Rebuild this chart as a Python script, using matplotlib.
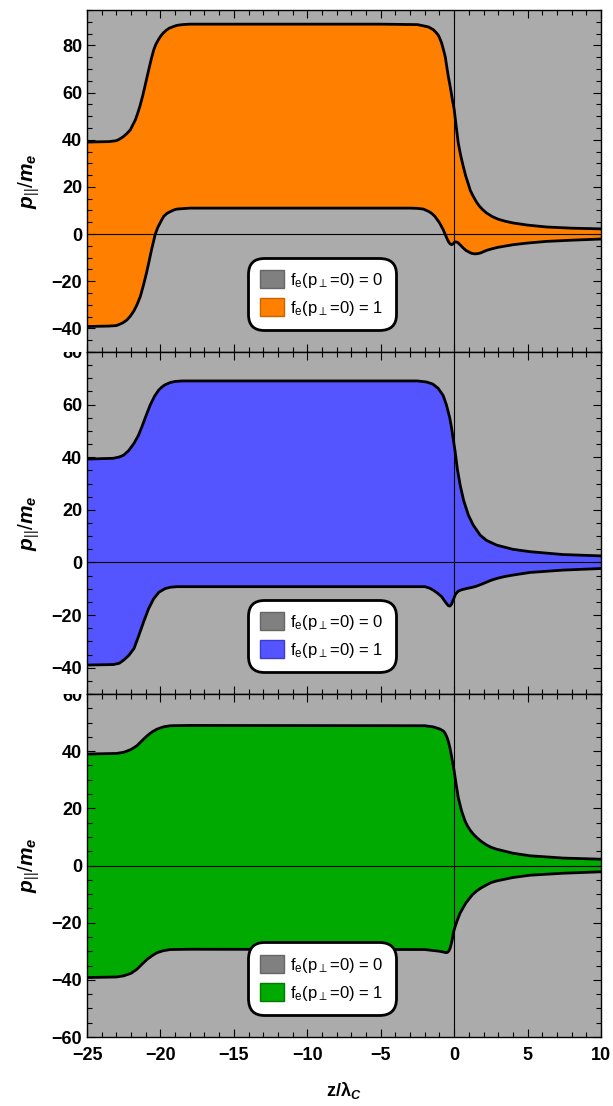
import numpy as np
import matplotlib
matplotlib.use("Agg")
import matplotlib.pyplot as plt
from matplotlib.patches import Patch
from matplotlib.ticker import MultipleLocator
from matplotlib.transforms import Bbox, TransformedBbox

plt.rcParams['font.family'] = ['Liberation Sans', 'DejaVu Sans']
plt.rcParams['mathtext.fontset'] = 'custom'
plt.rcParams['mathtext.rm'] = 'Liberation Sans'
plt.rcParams['mathtext.it'] = 'Liberation Sans:italic:bold'
plt.rcParams['mathtext.bf'] = 'Liberation Sans:bold'

# ---- data (z/lambda_C, p_par/m_e) ----
top_up_x = [-25, -23.5, -23.0, -22.8, -22.55, -22.3, -22.05, -21.7, -21.55, -21.4, -21.2, -21.05,
            -20.9, -20.75, -20.6, -20.45, -20.3, -20.1, -19.95, -19.8, -19.6, -19.4, -19.1,
            -18.87, -18.5, -18, -5, -2.5, -2.1, -1.75, -1.43, -1.25, -1.1, -1.0, -0.85, -0.7,
            -0.6, -0.5, -0.4, -0.3, -0.2, -0.1, 0.0, 0.14, 0.28, 0.45, 0.62, 0.78, 0.95, 1.1,
            1.3, 1.5, 1.7, 1.95, 2.21, 2.6, 3.0, 3.5, 4.02, 5, 6.29, 8, 10]
top_up_y = [39.0, 39.2, 39.6, 40.2, 41.2, 42.5, 44.2, 48.5, 51.2, 54.1, 58.8, 62.8,
            66.9, 70.9, 74.8, 78.2, 80.6, 82.8, 84.2, 85.3, 86.4, 87.3, 88.0,
            88.5, 88.8, 89.0, 89.0, 88.8, 88.3, 87.8, 86.7, 85.6, 84.5, 83.3, 81, 77.5,
            75, 70.9, 66.9, 63.6, 60, 56.3, 53, 45.7, 38.6, 33.2, 28.7, 24.8, 21.5, 18.5,
            16, 13.8, 12, 10.3, 8.9, 7.4, 6.3, 5.4, 4.7, 3.8, 3.0, 2.5, 2.2]
top_lo_x = [-25, -23.5, -23.0, -22.8, -22.55, -22.28, -22.05, -21.8, -21.6, -21.37, -21.15,
            -20.95, -20.8, -20.6, -20.35, -20.18, -20.0, -19.78, -19.55, -19.3, -19.1, -18.87,
            -18, -3, -2.5, -2.1, -1.7, -1.5, -1.31, -1.0, -0.74, -0.55, -0.4, -0.28, -0.17,
            -0.08, 0.0, 0.08, 0.17, 0.25, 0.35, 0.62, 0.8, 1.0, 1.2, 1.42, 1.6, 1.8, 2.21,
            2.6, 3.0, 4.02, 5, 6.29, 8, 10]
top_lo_y = [-39.2, -39.0, -38.8, -38.3, -37.6, -36.4, -34.8, -32.5, -30.0, -26.5, -21.5,
            -16.5, -12.3, -6.5, 0, 2.8, 5.0, 7.5, 8.8, 9.6, 10.2, 10.6,
            11.0, 11.0, 10.9, 10.6, 9.5, 8.6, 7.5, 4.8, 1.8, -1.0, -3.1, -4.1, -4.5,
            -4.2, -3.6, -3.3, -3.4, -3.6, -4.2, -5.9, -6.9, -7.6, -8.2, -8.4, -8.3, -8.0, -6.9,
            -6.2, -5.6, -4.5, -3.8, -3.1, -2.6, -2.1]

mid_up_x = [-25, -23.2, -22.8, -22.5, -22.15, -21.8, -21.5, -21.26, -21.0, -20.7, -20.4,
            -20.12, -19.9, -19.7, -19.33, -19.0, -18.5, -2.5, -1.88, -1.45, -1.09, -0.75,
            -0.52, -0.3, -0.17, -0.05, 0.07, 0.22, 0.41, 0.65, 0.97, 1.3, 1.77, 2.2, 2.89,
            4.0, 5.16, 7.42, 10]
mid_up_y = [39.3, 39.6, 40.1, 40.8, 42.6, 45.3, 48.3, 51.6, 55.5, 59.8, 63.2,
            65.5, 66.7, 67.5, 68.4, 68.8, 69, 69, 68.6, 67.8, 66.2, 63.5,
            59.8, 55, 51, 46.5, 42.1, 35.5, 29.4, 23.5, 18, 14.2, 10.4, 8.4, 6.6,
            5.0, 4.1, 3.0, 2.5]
mid_lo_x = [-25, -23.2, -22.8, -22.5, -22.15, -21.8, -21.5, -21.14, -20.8, -20.45, -20.1,
            -19.67, -19.3, -18.87, -2, -1.7, -1.43, -1.15, -0.85, -0.68, -0.52, -0.4, -0.29,
            -0.18, -0.07, 0.1, 0.28, 0.5, 0.85, 1.2, 1.53, 1.9, 2.2, 2.5, 2.89, 3.4, 4.0,
            5.16, 7.42, 10]
mid_lo_y = [-39.0, -38.8, -38.3, -37.1, -35.3, -32.7, -28.2, -22.5, -17.5, -13.7, -11.3,
            -9.9, -9.4, -9.2, -9.2, -9.7, -10.5, -11.6, -13, -14.4, -15.6, -16.4, -16.6,
            -15.9, -14.3, -12.0, -10.9, -10.4, -9.9, -9.5, -9.0, -8.2, -7.5, -6.8, -6.1, -5.4, -4.8,
            -3.8, -2.9, -2.3]

bot_up_x = [-25, -23, -22.5, -22.0, -21.6, -21.25, -20.9, -20.55, -20.23, -19.8, -19.33, -18,
            -2, -1.43, -1.0, -0.74, -0.62, -0.5, -0.4, -0.29, -0.15, 0.0, 0.14, 0.28, 0.5,
            0.74, 0.9, 1.1, 1.3, 1.53, 1.85, 2.2, 2.5, 2.89, 4.0, 5.16, 7.42, 10]
bot_up_y = [39, 39.2, 39.6, 40.6, 41.9, 43.7, 45.4, 46.8, 47.7, 48.5, 48.9, 49.0,
            48.9, 48.5, 47.8, 47.1, 46.3, 45, 43.5, 41.3, 37.5, 33.1, 28.3, 23.8, 19.2,
            15.6, 13.9, 12.3, 11.0, 9.8, 8.4, 7.2, 6.4, 5.7, 4.3, 3.4, 2.6, 2.2]
bot_lo_x = [-25, -23, -22.5, -22.0, -21.6, -21.25, -20.9, -20.55, -20.23, -19.8, -19.33, -18,
            -2, -1.0, -0.52, -0.43, -0.35, -0.28, -0.2, -0.13, -0.07, 0.0, 0.08, 0.2, 0.4,
            0.62, 0.8, 1.0, 1.25, 1.53, 1.85, 2.2, 2.5, 2.89, 4.0, 5.16, 7.42, 10]
bot_lo_y = [-39.2, -39.0, -38.6, -37.7, -36.3, -34.5, -32.8, -31.5, -30.5, -29.8, -29.4, -29.3,
            -29.4, -30.0, -30.5, -30.3, -29.8, -29.0, -27.5, -26.0, -24, -22.5, -21.2, -19.4, -16.7,
            -14.7, -13.1, -11.8, -10.2, -8.9, -7.8, -6.8, -6.0, -5.4, -4.2, -3.4, -2.7, -2.2]

fill_colors = ['#ff8000', '#5555ff', '#00aa00']
edge_colors = ['#c86400', '#3b3bd0', '#007a00']
y_limits = [(-50, 95), (-50, 80), (-60, 60)]
legend_labels = [r'f$_\mathregular{e}$(p$_\mathregular{\perp}$=0) = 0',
                 r'f$_\mathregular{e}$(p$_\mathregular{\perp}$=0) = 1']
bg_gray = '#ababab'

panels = [(top_up_x, top_up_y, top_lo_x, top_lo_y),
          (mid_up_x, mid_up_y, mid_lo_x, mid_lo_y),
          (bot_up_x, bot_up_y, bot_lo_x, bot_lo_y)]

fig = plt.figure(figsize=(6.13, 11.06), dpi=100)
left, right = 87 / 613, 601 / 613
edges = [10, 352, 694, 1037]

axes = []
for i, (ux, uy, lx, ly) in enumerate(panels):
    top = 1 - edges[i] / 1106
    bot = 1 - edges[i + 1] / 1106
    ax = fig.add_axes([left, bot, right - left, top - bot])
    ax.set_facecolor(bg_gray)
    xs = np.r_[ux, lx[::-1]]
    ys = np.r_[uy, ly[::-1]]
    ax.fill(xs, ys, color=fill_colors[i], lw=0, zorder=1)
    ax.axhline(0, color='black', lw=0.8, zorder=2)
    ax.axvline(0, color='black', lw=0.8, zorder=2)
    ax.plot(ux, uy, color='black', lw=2, zorder=3, solid_joinstyle='round')
    ax.plot(lx, ly, color='black', lw=2, zorder=3, solid_joinstyle='round')
    ax.set_xlim(-25, 10)
    ax.set_ylim(*y_limits[i])
    ax.xaxis.set_major_locator(MultipleLocator(5))
    ax.xaxis.set_minor_locator(MultipleLocator(1))
    ax.yaxis.set_major_locator(MultipleLocator(20))
    ax.yaxis.set_minor_locator(MultipleLocator(5))
    ax.tick_params(which='both', direction='in', top=True, right=True, width=0.8)
    ax.tick_params(which='major', length=6, labelsize=13)
    ax.tick_params(which='minor', length=3.5)
    ax.tick_params(axis='x', pad=7)
    for lab in ax.get_yticklabels():
        lab.set_fontweight('bold')
    for sp in ax.spines.values():
        sp.set_linewidth(1)
    ax.set_ylabel(r'$p_{||}/m_e$', fontsize=15, labelpad=7)
    if i < 2:
        ax.tick_params(labelbottom=False)
    else:
        for lab in ax.get_xticklabels():
            lab.set_fontweight('bold')
        ax.set_xlabel(r'z/λ$_C$', fontsize=13, fontweight='bold', labelpad=12)

    handles = [Patch(facecolor='#808080', edgecolor='#666666', lw=1),
               Patch(facecolor=fill_colors[i], edgecolor=edge_colors[i], lw=1)]
    leg = ax.legend(handles, legend_labels, loc='center', bbox_to_anchor=(0.457, 0.17),
                    fontsize=12, frameon=True, fancybox=True, framealpha=1,
                    edgecolor='black', handlelength=1.4, handleheight=1.3,
                    handletextpad=0.4, borderpad=0.45, labelspacing=0.5)
    leg.get_frame().set_linewidth(2)
    leg.get_frame().set_boxstyle('round,pad=0.3,rounding_size=1.0')
    axes.append(ax)

fig.canvas.draw()
# clip the top y tick label of the lower panels at the panel edge, as in the original
for i in (1, 2):
    ytop = 1 - edges[i] / 1106
    clip = TransformedBbox(Bbox([[0, 0], [1, ytop]]), fig.transFigure)
    for t in axes[i].yaxis.get_major_ticks():
        t.label1.set_clip_on(True)
        t.label1.set_clip_box(clip)

fig.savefig('out.png', dpi=100)
